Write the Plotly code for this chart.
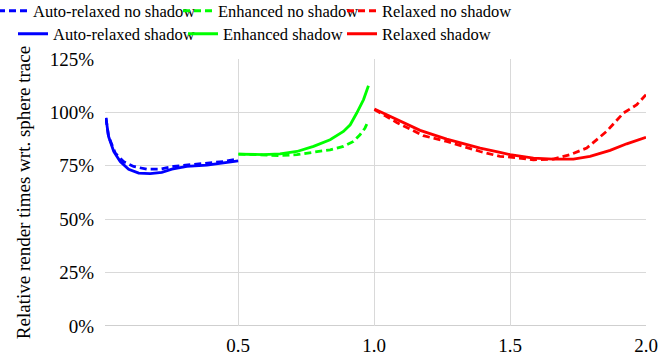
import plotly.graph_objects as go

# Auto-relaxed (blue)
auto_x_shadow = [0.0135, 0.023, 0.042, 0.066, 0.097, 0.134, 0.176, 0.219, 0.256, 0.311, 0.385, 0.446, 0.50]
auto_y_shadow = [97.4, 88.8, 81.7, 77.0, 73.4, 71.6, 71.3, 71.9, 73.4, 74.7, 75.3, 76.3, 77.3]
auto_x_noshadow = [0.0135, 0.023, 0.048, 0.078, 0.115, 0.164, 0.213, 0.262, 0.324, 0.385, 0.446, 0.495]
auto_y_noshadow = [97.4, 88.8, 80.9, 77.0, 74.7, 73.4, 73.4, 74.7, 75.5, 76.3, 77.0, 78.1]

# Enhanced (green)
enh_x_shadow = [0.501, 0.593, 0.654, 0.716, 0.777, 0.838, 0.887, 0.912, 0.936, 0.961, 0.979]
enh_y_shadow = [80.5, 80.2, 80.6, 81.7, 84.1, 87.2, 91.1, 94.2, 99.7, 106.0, 112.5]
enh_x_noshadow = [0.501, 0.593, 0.654, 0.716, 0.777, 0.838, 0.887, 0.924, 0.948, 0.966, 0.979]
enh_y_noshadow = [80.5, 80.2, 79.8, 80.2, 81.3, 82.5, 84.1, 86.4, 89.5, 92.6, 96.1]

# Relaxed (red)
rel_x_shadow = [1.001, 1.083, 1.169, 1.267, 1.39, 1.463, 1.5, 1.586, 1.659, 1.733, 1.794, 1.868, 1.929, 2.0]
rel_y_shadow = [101.6, 96.6, 91.6, 87.5, 83.3, 81.3, 80.2, 78.6, 78.1, 78.1, 79.4, 82.2, 85.3, 88.3]
rel_x_noshadow = [1.001, 1.083, 1.181, 1.267, 1.39, 1.463, 1.5, 1.586, 1.659, 1.72, 1.782, 1.855, 1.917, 1.966, 2.0]
rel_y_noshadow = [101.3, 95.3, 89.1, 86.4, 81.7, 79.4, 79.1, 77.8, 78.1, 80.2, 83.3, 91.1, 99.7, 103.6, 108.3]

y_ticks = [0, 25, 50, 75, 100, 125]
y_tick_labels = ["0%", "25%", "50%", "75%", "100%", "125%"]
x_ticks = [0.5, 1.0, 1.5, 2.0]
x_tick_labels = ["0.5", "1.0", "1.5", "2.0"]

BLUE = "#0000ff"
GREEN = "#00ff00"
RED = "#ff0000"
DASH = "7px,4px"
LW = 2.8
FONT = "Liberation Serif, Times New Roman, Times, serif"

W, H = 662, 361
ML, MR, MT, MB = 105, 16, 59, 35
PW, PH = W - ML - MR, H - MT - MB

# legend text start x (px) and row text centre y (px)
leg_text_x = [33, 218, 382, 53, 223, 382]
row_center_y = [13, 36]
TEXT_OFFSET = 40     # px from legend x to its text start
CENTER_OFFSET = 19.5  # px from legend top to text centre

series = [
    ("Auto-relaxed no shadow", auto_x_noshadow, auto_y_noshadow, BLUE, DASH),
    ("Enhanced no shadow", enh_x_noshadow, enh_y_noshadow, GREEN, DASH),
    ("Relaxed no shadow", rel_x_noshadow, rel_y_noshadow, RED, DASH),
    ("Auto-relaxed shadow", auto_x_shadow, auto_y_shadow, BLUE, "solid"),
    ("Enhanced shadow", enh_x_shadow, enh_y_shadow, GREEN, "solid"),
    ("Relaxed shadow", rel_x_shadow, rel_y_shadow, RED, "solid"),
]

fig = go.Figure()
legend_layout = {}
for i, (name, xs, ys, col, dash) in enumerate(series):
    key = "legend" if i == 0 else f"legend{i + 1}"
    fig.add_trace(go.Scatter(x=xs, y=ys, mode="lines", name=name,
                             line=dict(color=col, width=LW, dash=dash), legend=key))
    row = 0 if i < 3 else 1
    top_px = row_center_y[row] - CENTER_OFFSET
    legend_layout[key] = dict(
        orientation="h", xref="paper", yref="paper",
        xanchor="left", yanchor="top", bgcolor="rgba(0,0,0,0)",
        x=(leg_text_x[i] - TEXT_OFFSET - ML) / PW,
        y=(H - MB - top_px) / PH,
        font=dict(family=FONT, size=16.5, color="#000000"),
        itemwidth=30,
    )

fig.update_layout(
    width=W, height=H,
    margin=dict(l=ML, r=MR, t=MT, b=MB, autoexpand=False),
    paper_bgcolor="white", plot_bgcolor="white",
    font=dict(family=FONT, size=19, color="#000000"),
    showlegend=True,
    xaxis=dict(range=[0.01, 2.0], tickvals=x_ticks, ticktext=x_tick_labels,
               showgrid=True, gridcolor="#d9d9d9", gridwidth=1,
               zeroline=False, showline=False, ticks="", ticklabelstandoff=6,
               tickfont=dict(family=FONT, size=19, color="#000000")),
    yaxis=dict(range=[0, 125], tickvals=y_ticks, ticktext=y_tick_labels,
               showgrid=True, gridcolor="#d9d9d9", gridwidth=1,
               zeroline=False, showline=False, ticks="", ticklabelstandoff=10,
               tickfont=dict(family=FONT, size=19, color="#000000"),
               title=dict(text="Relative render times wrt. sphere trace",
                          font=dict(family=FONT, size=19, color="#000000"),
                          standoff=14)),
    **legend_layout,
)

# darker baseline at 0%
fig.add_hline(y=0, line=dict(color="#bfbfbf", width=1.5), layer="below")

fig.write_html("out.html", config={"displayModeBar": False},
               post_script="document.body.style.margin='0';document.body.style.padding='0';")
